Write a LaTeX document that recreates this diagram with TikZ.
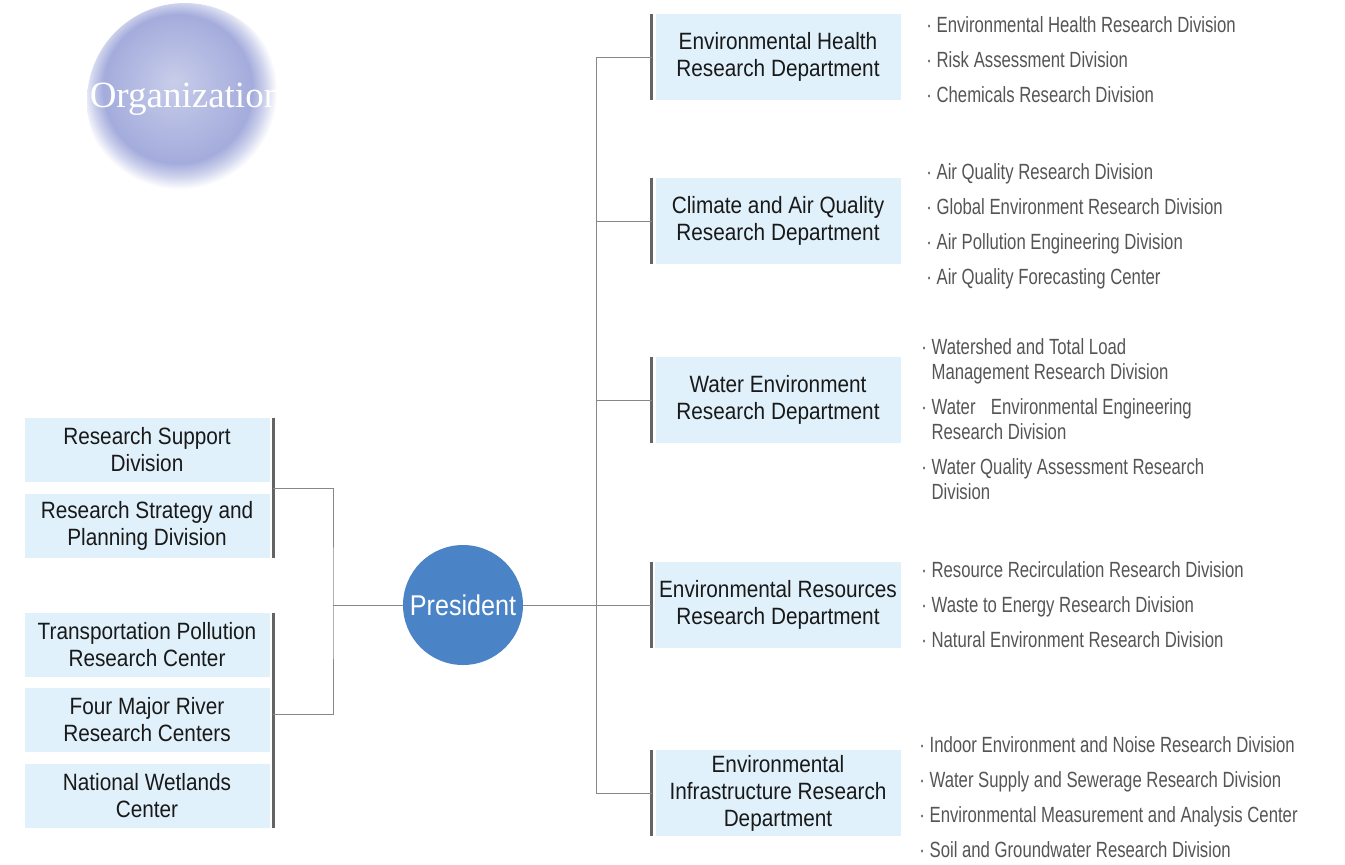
\documentclass[tikz,border=0pt]{standalone}
\usepackage{fontspec}
\setmainfont{Liberation Sans}
\newfontfamily\deptfont{Liberation Sans}[FakeStretch=0.88]
\newfontfamily\divfont{Liberation Sans}[FakeStretch=0.76]
\newfontfamily\titlefont{Liberation Serif}
\usetikzlibrary{calc, positioning}

\definecolor{boxblue}{RGB}{224,241,251}
\definecolor{bargray}{RGB}{100,100,100}
\definecolor{linegray}{RGB}{135,135,135}
\definecolor{presblue}{RGB}{74,132,198}
\definecolor{divgray}{RGB}{85,85,85}
\definecolor{orglav}{RGB}{164,172,220}

% soft lavender blob behind the title, lighter towards the top left
\pgfdeclareradialshading{orgblob}{\pgfpoint{-3bp}{5bp}}{%
  color(0bp)=(orglav!60!white); color(10bp)=(orglav!82!white);
  color(19bp)=(orglav); color(22bp)=(orglav!55!white);
  color(25bp)=(white); color(50bp)=(white)}

\newcommand{\contind}{\phantom{·\ }}

\tikzset{
  % blocks
  dept/.style  = {fill=boxblue, align=center, inner sep=2pt, text=black!90,
                  font=\deptfont\fontsize{11.8}{13.5}\selectfont,
                  minimum width=122.5pt, minimum height=43pt},
  unit/.style  = {fill=boxblue, align=center, inner sep=2pt, text=black!90,
                  font=\deptfont\fontsize{11.8}{13.5}\selectfont,
                  minimum width=122.5pt, minimum height=32pt},
  chief/.style = {circle, fill=presblue, text=white, inner sep=0pt,
                  font=\deptfont\fontsize{14.3}{16}\selectfont, minimum size=60pt},
  divlist/.style = {anchor=north west, align=left, inner sep=0pt, text=divgray,
                    font=\divfont\fontsize{11}{12.5}\selectfont},
  % lines
  link/.style = {draw=linegray, line width=0.5pt},
  bar/.style  = {draw=bargray, line width=1.5pt},
}

\begin{document}
\begin{tikzpicture}[x=0.5pt, y=-0.5pt]
\useasboundingbox (0,0) rectangle (1345,864);

% ---------- Title ----------
\shade[shading=orgblob] (185,101) circle (49pt);
\node[text=white, font=\titlefont\fontsize{18.5}{20}\selectfont] (orgtitle) at (186,99) {Organization};

% ---------- President ----------
\node[chief] (pres) at (463,605) {President};
\coordinate (lj) at (333,605);
\coordinate (tk) at (596,605);

% ---------- Support units (left) ----------
\node[unit] (rsd) at (147,450) {Research Support\\Division};
\node[unit] (rsp) at (147,526) {Research Strategy and\\Planning Division};
\node[unit] (tpr) at (147,645) {Transportation Pollution\\Research Center};
\node[unit] (fmr) at (147,720) {Four Major River\\Research Centers};
\node[unit] (nwc) at (147,796) {National Wetlands\\Center};

\draw[bar] ([xshift=1.75pt]rsd.north east) -- ([xshift=1.75pt]rsp.south east);
\draw[bar] ([xshift=1.75pt]tpr.north east) -- ([xshift=1.75pt]nwc.south east);

\coordinate (upbar)  at ($(rsd.south east)!0.5!(rsp.north east)+(1.75pt,0)$);
\coordinate (lowbar) at ($(fmr.east)+(1.75pt,3pt)$);

% ---------- Departments (right) ----------
\node[dept] (eh)  at (778,57)  {Environmental Health\\Research Department};
\node[dept] (caq) at (778,221) {Climate and Air Quality\\Research Department};
\node[dept] (wer) at (778,400) {Water Environment\\Research Department};
\node[dept] (err) at (778,605) {Environmental Resources\\Research Department};
\node[dept] (eir) at (778,793) {Environmental\\Infrastructure Research\\Department};

\foreach \d in {eh, caq, wer, err, eir} {
  \draw[bar] ([xshift=-1.75pt]\d.north west) -- ([xshift=-1.75pt]\d.south west);
}

% ---------- Divisions ----------
\node[divlist] (ehl) at (926,16) {·\ Environmental Health Research Division\\[5pt]
  ·\ Risk Assessment Division\\[5pt]
  ·\ Chemicals Research Division};
\node[divlist] (caql) at (926,163) {·\ Air Quality Research Division\\[5pt]
  ·\ Global Environment Research Division\\[5pt]
  ·\ Air Pollution Engineering Division\\[5pt]
  ·\ Air Quality Forecasting Center};
\node[divlist] (werl) at (921,338) {·\ Watershed and Total Load\\
  \contind Management Research Division\\[5pt]
  ·\ Water\hspace{0.7em}Environmental Engineering\\
  \contind Research Division\\[5pt]
  ·\ Water Quality Assessment Research\\
  \contind Division};
\node[divlist] (errl) at (921,561) {·\ Resource Recirculation Research Division\\[5pt]
  ·\ Waste to Energy Research Division\\[5pt]
  ·\ Natural Environment Research Division};
\node[divlist] (eirl) at (919,736) {·\ Indoor Environment and Noise Research Division\\[5pt]
  ·\ Water Supply and Sewerage Research Division\\[5pt]
  ·\ Environmental Measurement and Analysis Center\\[5pt]
  ·\ Soil and Groundwater Research Division};

% ---------- Links ----------
\draw[link] (upbar) -| (lj) |- (lowbar);
\draw[link] (lj) -- (pres);
\draw[link] (pres) -- ([xshift=-1.75pt]err.west);
\foreach \d in {eh, caq, wer, eir} {
  \draw[link] (tk) |- ([xshift=-1.75pt]\d.west);
}

\end{tikzpicture}
\end{document}
